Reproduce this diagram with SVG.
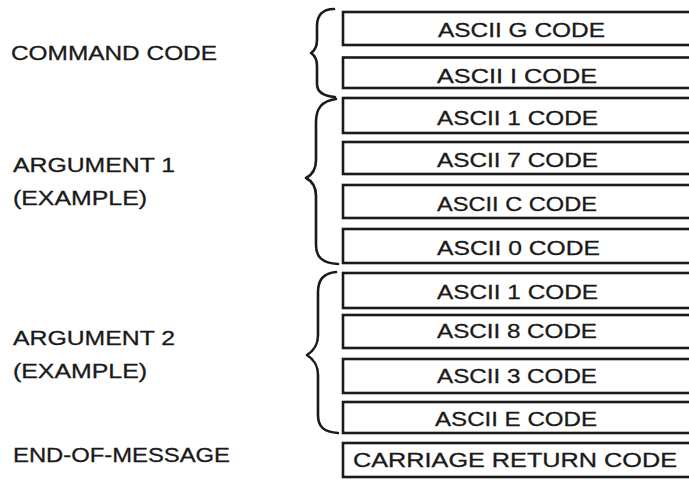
<svg xmlns="http://www.w3.org/2000/svg" width="689" height="479" viewBox="0 0 689 479">
<style>
.box{fill:none;stroke:#1a1a1a;stroke-width:2.6}
.t{font-family:"Liberation Sans",Arial,sans-serif;font-size:20px;fill:#1a1a1a;stroke:#1a1a1a;stroke-width:0.3}
.l{font-family:"Liberation Sans",Arial,sans-serif;font-size:20.5px;fill:#1a1a1a;stroke:#1a1a1a;stroke-width:0.3}
.brace{fill:none;stroke:#1a1a1a;stroke-width:2.6;stroke-linecap:round;stroke-linejoin:round}
</style>
<rect width="689" height="479" fill="#ffffff"/>
<g id="label-command"><text class="l" x="11" y="60" textLength="206" lengthAdjust="spacingAndGlyphs">COMMAND CODE</text></g>
<g id="label-arg1"><text class="l" x="13" y="172" textLength="162" lengthAdjust="spacingAndGlyphs">ARGUMENT 1</text><text class="l" x="13" y="205" textLength="134" lengthAdjust="spacingAndGlyphs">(EXAMPLE)</text></g>
<g id="label-arg2"><text class="l" x="13" y="345" textLength="162" lengthAdjust="spacingAndGlyphs">ARGUMENT 2</text><text class="l" x="13" y="378" textLength="134" lengthAdjust="spacingAndGlyphs">(EXAMPLE)</text></g>
<g id="label-eom"><text class="l" x="13" y="462" textLength="217" lengthAdjust="spacingAndGlyphs">END-OF-MESSAGE</text></g>

<g id="box-g"><rect class="box" x="343" y="12" width="400" height="33"/><text class="t" x="438" y="37" textLength="167" lengthAdjust="spacingAndGlyphs">ASCII G CODE</text></g>
<g id="box-i"><rect class="box" x="343" y="57.5" width="400" height="30.5"/><text class="t" x="437" y="82.5" textLength="160" lengthAdjust="spacingAndGlyphs">ASCII I CODE</text></g>
<g id="box-1a"><rect class="box" x="343" y="98" width="400" height="35"/><text class="t" x="437" y="125" textLength="161" lengthAdjust="spacingAndGlyphs">ASCII 1 CODE</text></g>
<g id="box-7"><rect class="box" x="343" y="142" width="400" height="32"/><text class="t" x="437" y="167" textLength="161" lengthAdjust="spacingAndGlyphs">ASCII 7 CODE</text></g>
<g id="box-c"><rect class="box" x="343" y="185" width="400" height="33"/><text class="t" x="437" y="211" textLength="160" lengthAdjust="spacingAndGlyphs">ASCII C CODE</text></g>
<g id="box-0"><rect class="box" x="343" y="229" width="400" height="34"/><text class="t" x="437" y="255" textLength="163" lengthAdjust="spacingAndGlyphs">ASCII 0 CODE</text></g>
<g id="box-1b"><rect class="box" x="343" y="273" width="400" height="35"/><text class="t" x="437" y="299" textLength="161" lengthAdjust="spacingAndGlyphs">ASCII 1 CODE</text></g>
<g id="box-8"><rect class="box" x="343" y="315" width="400" height="33"/><text class="t" x="437" y="338" textLength="160" lengthAdjust="spacingAndGlyphs">ASCII 8 CODE</text></g>
<g id="box-3"><rect class="box" x="343" y="359" width="400" height="34"/><text class="t" x="437" y="383" textLength="160" lengthAdjust="spacingAndGlyphs">ASCII 3 CODE</text></g>
<g id="box-e"><rect class="box" x="343" y="402" width="400" height="31"/><text class="t" x="435" y="426" textLength="162" lengthAdjust="spacingAndGlyphs">ASCII E CODE</text></g>
<g id="box-cr"><rect class="box" x="343" y="443" width="400" height="34"/><text class="t" x="353" y="467" textLength="324" lengthAdjust="spacingAndGlyphs">CARRIAGE RETURN CODE</text></g>

<g id="connectors">
<path class="brace" d="M334,9 C322,9 317,16 317,26 L317,40 C317,48 314,51 311,53 C314,55 317,58 317,66 L317,84 C317,92 323,96 335,97"/>
<path class="brace" d="M336,99 C322,101 316,108 316,122 L316,160 C316,170 312,175 306,178 C312,181 316,186 316,196 L316,245 C316,257 322,263 338,264"/>
<path class="brace" d="M336,272 C323,273 318,280 318,292 L318,335 C318,346 313,351 307,355 C313,359 318,364 318,375 L318,415 C318,427 324,432 338,433"/>
</g>
</svg>
